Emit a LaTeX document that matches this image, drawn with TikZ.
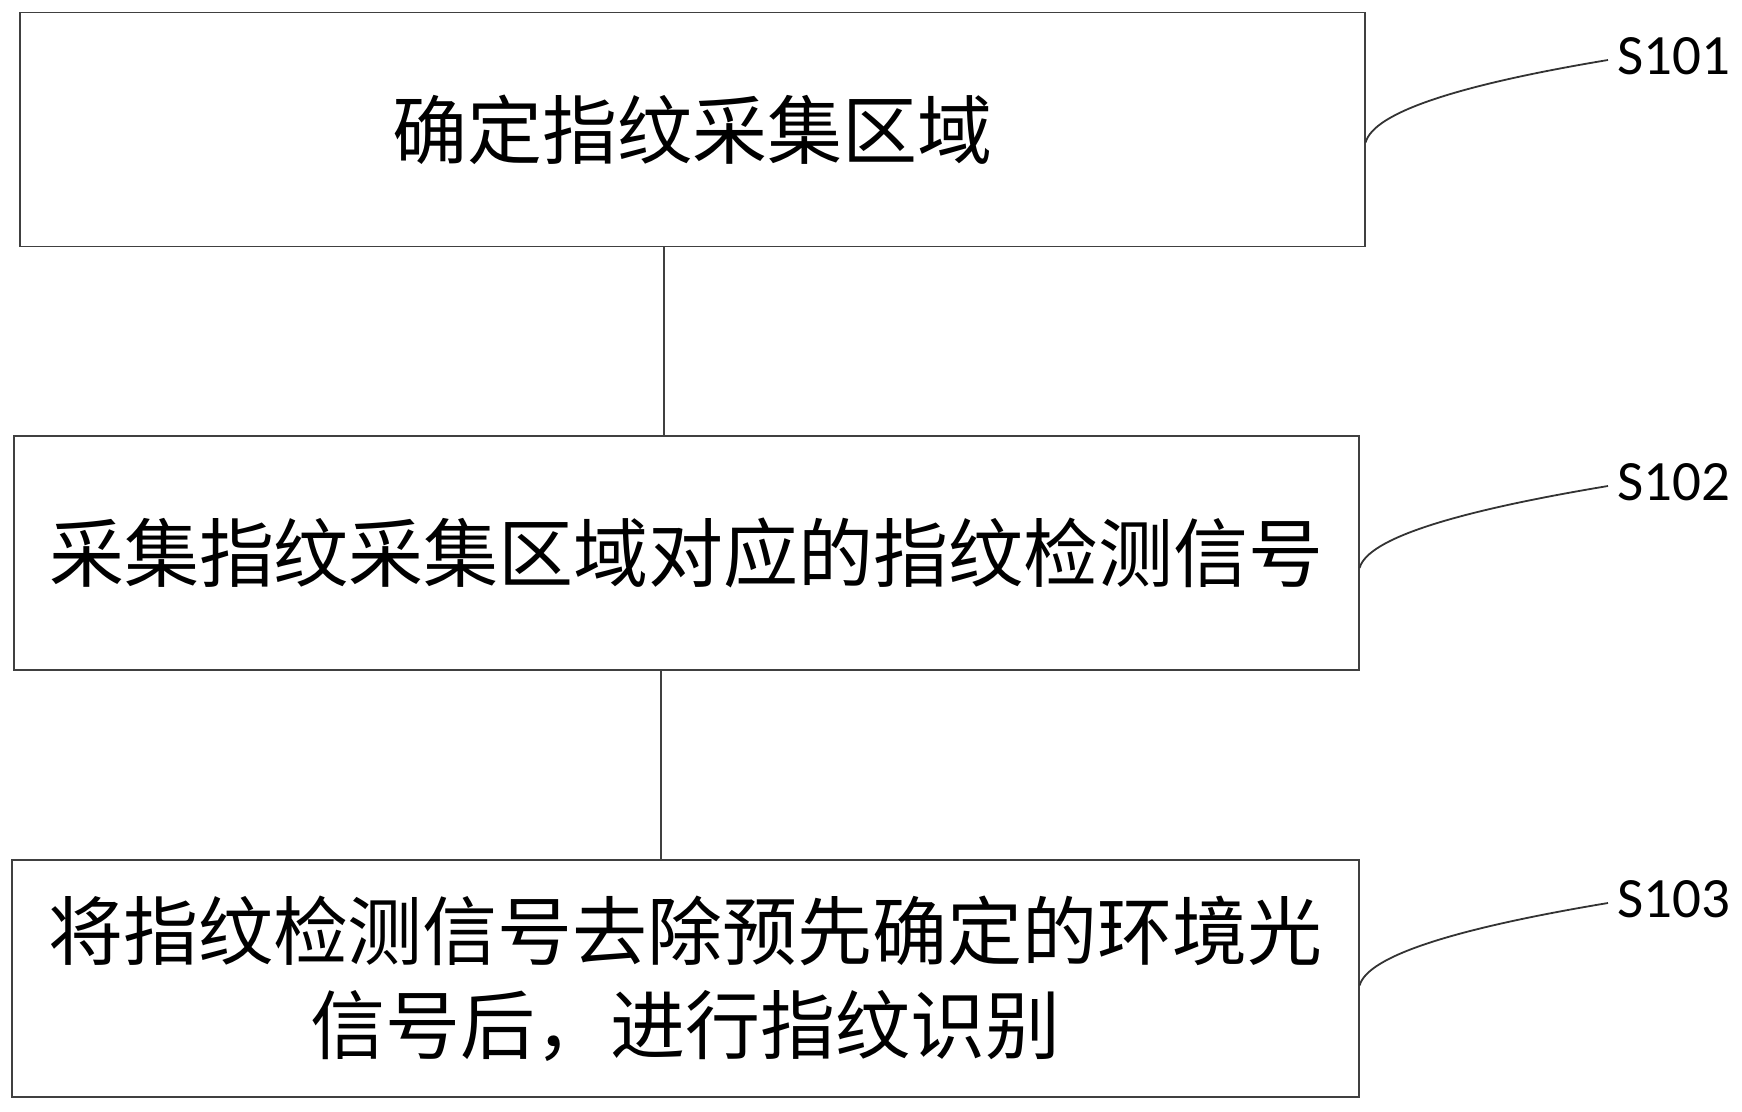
\documentclass[tikz,border=0pt]{standalone}
\usepackage{fontspec}
\setmainfont{Carlito}
\newfontfamily\cjk{Noto Sans CJK SC}
\usetikzlibrary{calc}
\begin{document}
\begin{tikzpicture}[x=0.5pt,y=-0.5pt,
    stepbox/.style={draw=black!75,line width=0.6pt,inner sep=0pt,align=center,
      minimum height=117pt,font=\cjk\fontsize{37.5pt}{47pt}\selectfont},
    steplabel/.style={anchor=west,inner xsep=4.5pt,inner ysep=0pt,
      font=\fontsize{28.5pt}{34pt}\selectfont},
    leader/.style={draw=black!80,line width=0.9pt}]
  \useasboundingbox (0,0) rectangle (1742,1112);
  \draw
    (692.5,129.5) node[stepbox,minimum width=672.5pt] (b1){确定指纹采集区域}
    (686.5,553) node[stepbox,minimum width=672.5pt] (b2){采集指纹采集区域对应的指纹检测信号}
    (685.5,978.5) node[stepbox,minimum width=673.5pt,minimum height=118.5pt] (b3){将指纹检测信号去除预先确定的环境光\\信号后，进行指纹识别};
  \draw
    (1608,56) node[steplabel] (s1){S101}
    (1608,482) node[steplabel] (s2){S102}
    (1608,899) node[steplabel] (s3){S103};
  \coordinate (k1) at (664,0);
  \coordinate (k2) at (661,0);
  \begin{scope}[draw=black!75,line width=0.6pt]
    \draw (b1.south -| k1) to (b2.north -| k1);
    \draw (b2.south -| k2) to (b3.north -| k2);
  \end{scope}
  \begin{scope}[leader]
    \draw ($(b1.east)+(0,13)$) .. controls +(8,-30) and +(-150,25) .. ($(s1.west)+(0,4)$);
    \draw ($(b2.east)+(0,15)$) .. controls +(8,-30) and +(-150,25) .. ($(s2.west)+(0,4)$);
    \draw ($(b3.east)+(0,7)$) .. controls +(8,-30) and +(-150,25) .. ($(s3.west)+(0,4)$);
  \end{scope}
\end{tikzpicture}
\end{document}
